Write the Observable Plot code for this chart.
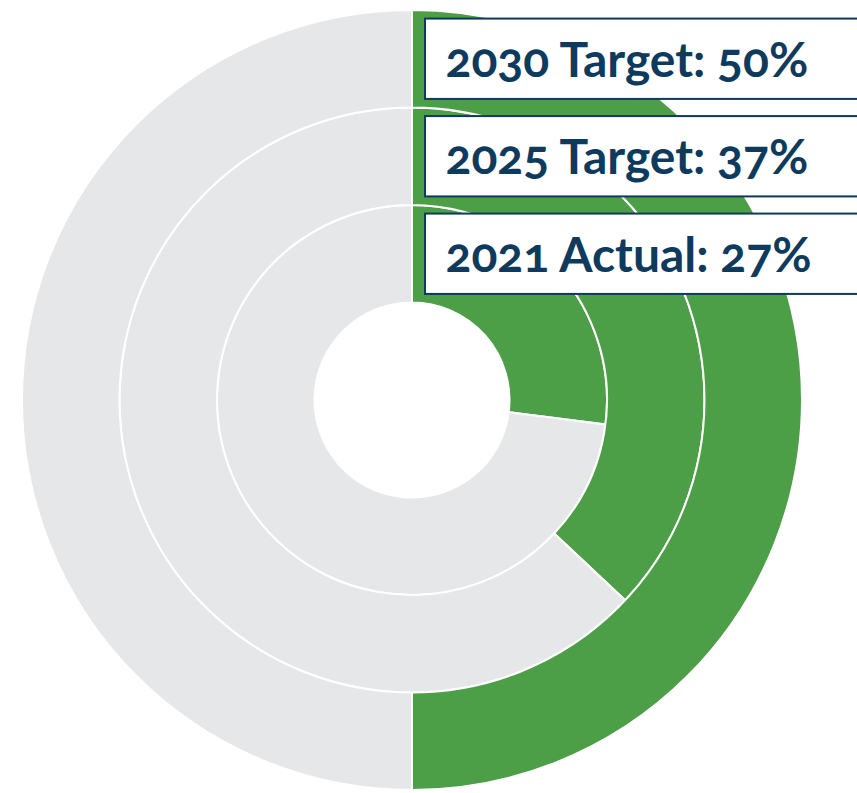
<!DOCTYPE html>
<html>
<head>
<meta charset="utf-8">
<script src="https://cdn.jsdelivr.net/npm/d3@7"></script>
<script src="https://cdn.jsdelivr.net/npm/@observablehq/plot@0.6"></script>
<style>
  html, body { margin: 0; padding: 0; background: #fff; overflow: hidden; }
</style>
</head>
<body>
<div id="chart"></div>
<script>
// ring order: inner -> outer
const labels = ["2021 Actual", "2025 Target", "2030 Target"];
const values = [27, 37, 50];

const GREEN = "#4c9f46";
const GRAY = "#e6e7e8";
const NAVY = "#0e3a5e";

const W = 857, H = 793;
const CX = 412, CY = 400, R = 390;

// ring radii in data units (outer radius = 1); hole = 0.25
const rings = labels.map((label, i) => ({
  label,
  value: values[i],
  r0: (i + 1) * 0.25,
  r1: (i + 2) * 0.25,
  mid: (i + 1.5) * 0.25
}));

const segments = rings.flatMap(d => [
  {ring: d, start: 0, end: d.value / 100 * 2 * Math.PI, fill: GREEN},
  {ring: d, start: d.value / 100 * 2 * Math.PI, end: 2 * Math.PI, fill: GRAY}
]);

const xMin = -CX / R, xMax = (W - CX) / R;
const yMax = CY / R, yMin = -(H - CY) / R;

function arcs(index, scales, values, dimensions, context) {
  const cx = scales.x(0), cy = scales.y(0);
  const k = scales.x(1) - scales.x(0);
  const arc = d3.arc();
  const g = d3.create("svg:g");
  g.selectAll("path")
    .data(segments)
    .join("path")
    .attr("transform", `translate(${cx},${cy})`)
    .attr("d", d => arc({innerRadius: d.ring.r0 * k, outerRadius: d.ring.r1 * k, startAngle: d.start, endAngle: d.end}))
    .attr("fill", d => d.fill)
    .attr("stroke", "white")
    .attr("stroke-width", 2)
    .attr("stroke-linejoin", "miter");
  return g.node();
}

const boxH = 0.103;
const chart = Plot.plot({
  width: W,
  height: H,
  margin: 0,
  x: {domain: [xMin, xMax], axis: null},
  y: {domain: [yMin, yMax], axis: null},
  style: {fontFamily: "Lato, 'Open Sans', sans-serif", background: "white"},
  marks: [
    arcs,
    Plot.rect(rings, {
      x1: () => 13 / R,
      x2: () => xMax + 0.05,
      y1: d => d.mid - boxH,
      y2: d => d.mid + boxH,
      fill: "white",
      stroke: NAVY,
      strokeWidth: 2
    }),
    Plot.text(rings, {
      x: () => 33 / R,
      y: d => d.mid,
      text: d => `${d.label}: ${d.value}%`,
      textAnchor: "start",
      fill: NAVY,
      fontSize: 48,
      fontWeight: "bold",
      fontVariant: "oldstyle-nums",
      dy: 2
    })
  ]
});
document.getElementById("chart").append(chart);
</script>
</body>
</html>
